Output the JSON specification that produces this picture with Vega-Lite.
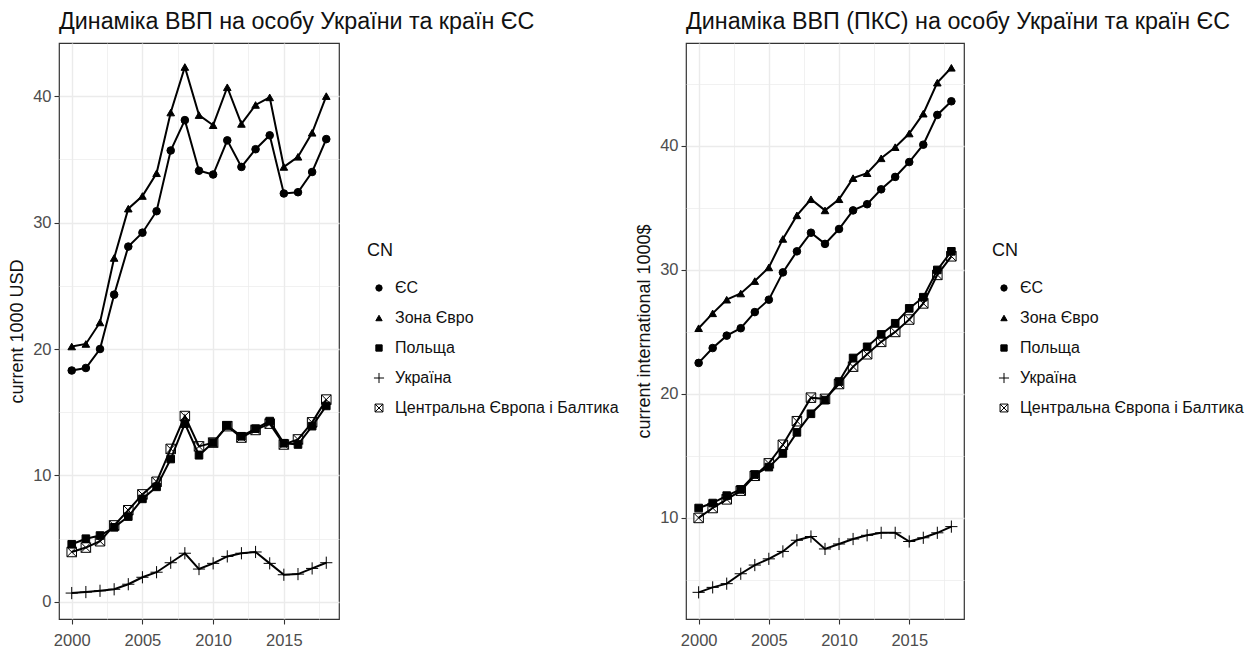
{
  "$schema": "https://vega.github.io/schema/vega-lite/v6.json",
  "background": "white",
  "padding": {"left": 8, "top": 9, "right": 2, "bottom": 0},
  "config": {
    "font": "Liberation Sans",
    "view": {"stroke": "#333333", "strokeWidth": 1.2},
    "axis": {"domain": false, "grid": true, "gridColor": "#EBEBEB", "tickColor": "#333333", "tickSize": 5, "tickWidth": 1.1, "labelColor": "#4D4D4D", "labelFontSize": 16.5, "labelFont": "Liberation Sans", "titleFont": "Liberation Sans", "titleFontSize": 18, "titleColor": "#111111", "titleFontWeight": "normal", "labelOverlap": false, "labelFlush": false, "labelPadding": 3},
    "axisX": {"labelPadding": 8},
    "legend": {"titleFont": "Liberation Sans", "titleFontSize": 18, "titleFontWeight": "normal", "titleColor": "#111111", "labelFont": "Liberation Sans", "labelFontSize": 16, "labelColor": "#111111", "labelLimit": 400, "symbolSize": 40, "symbolStrokeWidth": 1, "rowPadding": 14, "titlePadding": 20, "labelOffset": 8, "symbolOffset": 4},
    "title": {"font": "Liberation Sans", "fontSize": 23.3, "fontWeight": "normal", "color": "#111111", "anchor": "start", "frame": "group", "offset": 9},
    "concat": {"spacing": 15}
  },
  "data": {"values": [
    {"year": 2000, "CN": "ЄС", "usd": 18.3, "ppp": 22.5},
    {"year": 2001, "CN": "ЄС", "usd": 18.5, "ppp": 23.7},
    {"year": 2002, "CN": "ЄС", "usd": 20.0, "ppp": 24.7},
    {"year": 2003, "CN": "ЄС", "usd": 24.3, "ppp": 25.3},
    {"year": 2004, "CN": "ЄС", "usd": 28.1, "ppp": 26.6},
    {"year": 2005, "CN": "ЄС", "usd": 29.2, "ppp": 27.6},
    {"year": 2006, "CN": "ЄС", "usd": 30.9, "ppp": 29.8},
    {"year": 2007, "CN": "ЄС", "usd": 35.7, "ppp": 31.5},
    {"year": 2008, "CN": "ЄС", "usd": 38.1, "ppp": 33.0},
    {"year": 2009, "CN": "ЄС", "usd": 34.1, "ppp": 32.1},
    {"year": 2010, "CN": "ЄС", "usd": 33.8, "ppp": 33.3},
    {"year": 2011, "CN": "ЄС", "usd": 36.5, "ppp": 34.8},
    {"year": 2012, "CN": "ЄС", "usd": 34.4, "ppp": 35.3},
    {"year": 2013, "CN": "ЄС", "usd": 35.8, "ppp": 36.5},
    {"year": 2014, "CN": "ЄС", "usd": 36.9, "ppp": 37.5},
    {"year": 2015, "CN": "ЄС", "usd": 32.3, "ppp": 38.7},
    {"year": 2016, "CN": "ЄС", "usd": 32.4, "ppp": 40.1},
    {"year": 2017, "CN": "ЄС", "usd": 34.0, "ppp": 42.5},
    {"year": 2018, "CN": "ЄС", "usd": 36.6, "ppp": 43.6},
    {"year": 2000, "CN": "Зона Євро", "usd": 20.2, "ppp": 25.3},
    {"year": 2001, "CN": "Зона Євро", "usd": 20.4, "ppp": 26.5},
    {"year": 2002, "CN": "Зона Євро", "usd": 22.1, "ppp": 27.6},
    {"year": 2003, "CN": "Зона Євро", "usd": 27.2, "ppp": 28.1},
    {"year": 2004, "CN": "Зона Євро", "usd": 31.1, "ppp": 29.1},
    {"year": 2005, "CN": "Зона Євро", "usd": 32.1, "ppp": 30.2},
    {"year": 2006, "CN": "Зона Євро", "usd": 33.9, "ppp": 32.5},
    {"year": 2007, "CN": "Зона Євро", "usd": 38.7, "ppp": 34.4},
    {"year": 2008, "CN": "Зона Євро", "usd": 42.3, "ppp": 35.7},
    {"year": 2009, "CN": "Зона Євро", "usd": 38.5, "ppp": 34.8},
    {"year": 2010, "CN": "Зона Євро", "usd": 37.7, "ppp": 35.7},
    {"year": 2011, "CN": "Зона Євро", "usd": 40.7, "ppp": 37.4},
    {"year": 2012, "CN": "Зона Євро", "usd": 37.8, "ppp": 37.8},
    {"year": 2013, "CN": "Зона Євро", "usd": 39.3, "ppp": 39.0},
    {"year": 2014, "CN": "Зона Євро", "usd": 39.9, "ppp": 39.9},
    {"year": 2015, "CN": "Зона Євро", "usd": 34.4, "ppp": 41.0},
    {"year": 2016, "CN": "Зона Євро", "usd": 35.2, "ppp": 42.6},
    {"year": 2017, "CN": "Зона Євро", "usd": 37.1, "ppp": 45.1},
    {"year": 2018, "CN": "Зона Євро", "usd": 40.0, "ppp": 46.3},
    {"year": 2000, "CN": "Польща", "usd": 4.56, "ppp": 10.8},
    {"year": 2001, "CN": "Польща", "usd": 5.0, "ppp": 11.2},
    {"year": 2002, "CN": "Польща", "usd": 5.25, "ppp": 11.8},
    {"year": 2003, "CN": "Польща", "usd": 5.9, "ppp": 12.3},
    {"year": 2004, "CN": "Польща", "usd": 6.75, "ppp": 13.5},
    {"year": 2005, "CN": "Польща", "usd": 8.15, "ppp": 14.1},
    {"year": 2006, "CN": "Польща", "usd": 9.1, "ppp": 15.2},
    {"year": 2007, "CN": "Польща", "usd": 11.3, "ppp": 16.9},
    {"year": 2008, "CN": "Польща", "usd": 14.1, "ppp": 18.4},
    {"year": 2009, "CN": "Польща", "usd": 11.6, "ppp": 19.5},
    {"year": 2010, "CN": "Польща", "usd": 12.6, "ppp": 21.0},
    {"year": 2011, "CN": "Польща", "usd": 13.95, "ppp": 22.9},
    {"year": 2012, "CN": "Польща", "usd": 13.1, "ppp": 23.8},
    {"year": 2013, "CN": "Польща", "usd": 13.7, "ppp": 24.8},
    {"year": 2014, "CN": "Польща", "usd": 14.3, "ppp": 25.7},
    {"year": 2015, "CN": "Польща", "usd": 12.55, "ppp": 26.9},
    {"year": 2016, "CN": "Польща", "usd": 12.45, "ppp": 27.8},
    {"year": 2017, "CN": "Польща", "usd": 13.9, "ppp": 30.0},
    {"year": 2018, "CN": "Польща", "usd": 15.5, "ppp": 31.5},
    {"year": 2000, "CN": "Україна", "usd": 0.7, "ppp": 4.0},
    {"year": 2001, "CN": "Україна", "usd": 0.78, "ppp": 4.4},
    {"year": 2002, "CN": "Україна", "usd": 0.88, "ppp": 4.7},
    {"year": 2003, "CN": "Україна", "usd": 1.0, "ppp": 5.5},
    {"year": 2004, "CN": "Україна", "usd": 1.4, "ppp": 6.2},
    {"year": 2005, "CN": "Україна", "usd": 1.95, "ppp": 6.7},
    {"year": 2006, "CN": "Україна", "usd": 2.35, "ppp": 7.3},
    {"year": 2007, "CN": "Україна", "usd": 3.1, "ppp": 8.2},
    {"year": 2008, "CN": "Україна", "usd": 3.85, "ppp": 8.5},
    {"year": 2009, "CN": "Україна", "usd": 2.6, "ppp": 7.5},
    {"year": 2010, "CN": "Україна", "usd": 3.05, "ppp": 7.9},
    {"year": 2011, "CN": "Україна", "usd": 3.6, "ppp": 8.3},
    {"year": 2012, "CN": "Україна", "usd": 3.85, "ppp": 8.6},
    {"year": 2013, "CN": "Україна", "usd": 3.95, "ppp": 8.8},
    {"year": 2014, "CN": "Україна", "usd": 3.05, "ppp": 8.8},
    {"year": 2015, "CN": "Україна", "usd": 2.15, "ppp": 8.1},
    {"year": 2016, "CN": "Україна", "usd": 2.2, "ppp": 8.4},
    {"year": 2017, "CN": "Україна", "usd": 2.65, "ppp": 8.8},
    {"year": 2018, "CN": "Україна", "usd": 3.1, "ppp": 9.3},
    {"year": 2000, "CN": "Центральна Європа і Балтика", "usd": 3.95, "ppp": 10.0},
    {"year": 2001, "CN": "Центральна Європа і Балтика", "usd": 4.3, "ppp": 10.8},
    {"year": 2002, "CN": "Центральна Європа і Балтика", "usd": 4.8, "ppp": 11.5},
    {"year": 2003, "CN": "Центральна Європа і Балтика", "usd": 6.05, "ppp": 12.2},
    {"year": 2004, "CN": "Центральна Європа і Балтика", "usd": 7.25, "ppp": 13.4},
    {"year": 2005, "CN": "Центральна Європа і Балтика", "usd": 8.5, "ppp": 14.4},
    {"year": 2006, "CN": "Центральна Європа і Балтика", "usd": 9.5, "ppp": 15.9},
    {"year": 2007, "CN": "Центральна Європа і Балтика", "usd": 12.1, "ppp": 17.8},
    {"year": 2008, "CN": "Центральна Європа і Балтика", "usd": 14.7, "ppp": 19.7},
    {"year": 2009, "CN": "Центральна Європа і Балтика", "usd": 12.3, "ppp": 19.6},
    {"year": 2010, "CN": "Центральна Європа і Балтика", "usd": 12.6, "ppp": 20.8},
    {"year": 2011, "CN": "Центральна Європа і Балтика", "usd": 13.9, "ppp": 22.2},
    {"year": 2012, "CN": "Центральна Європа і Балтика", "usd": 13.0, "ppp": 23.2},
    {"year": 2013, "CN": "Центральна Європа і Балтика", "usd": 13.6, "ppp": 24.2},
    {"year": 2014, "CN": "Центральна Європа і Балтика", "usd": 14.1, "ppp": 25.0},
    {"year": 2015, "CN": "Центральна Європа і Балтика", "usd": 12.45, "ppp": 26.0},
    {"year": 2016, "CN": "Центральна Європа і Балтика", "usd": 12.85, "ppp": 27.3},
    {"year": 2017, "CN": "Центральна Європа і Балтика", "usd": 14.2, "ppp": 29.6},
    {"year": 2018, "CN": "Центральна Європа і Балтика", "usd": 16.0, "ppp": 31.1}
  ]},
  "resolve": {"scale": {"shape": "independent", "fill": "independent", "stroke": "independent"}, "legend": {"shape": "independent", "fill": "independent", "stroke": "independent"}},
  "hconcat": [
    {
      "width": 280,
      "height": 576,
      "title": {"text": "Динаміка ВВП на особу України та країн ЄС"},
      "encoding": {
        "x": {"field": "year", "type": "quantitative", "scale": {"domain": [1999.1, 2018.9], "nice": false, "zero": false},
          "axis": {"title": null, "values": [2000, 2002.5, 2005, 2007.5, 2010, 2012.5, 2015, 2017.5], "format": "d",
            "labelExpr": "datum.value % 5 === 0 ? datum.label : ''",
            "tickOpacity": {"condition": {"test": "datum.value % 5 !== 0", "value": 0}, "value": 1},
            "gridWidth": {"condition": {"test": "datum.value % 5 !== 0", "value": 0.7}, "value": 1.4}}},
        "y": {"field": "usd", "type": "quantitative", "scale": {"domain": [-1.35, 44.2], "nice": false, "zero": false},
          "axis": {"title": "current 1000 USD", "titlePadding": 6, "values": [0, 5, 10, 15, 20, 25, 30, 35, 40],
            "labelExpr": "datum.value % 10 === 0 ? datum.label : ''",
            "tickOpacity": {"condition": {"test": "datum.value % 10 !== 0", "value": 0}, "value": 1},
            "gridWidth": {"condition": {"test": "datum.value % 10 !== 0", "value": 0.7}, "value": 1.4}}}
      },
      "layer": [
        {"mark": {"type": "line", "color": "black", "strokeWidth": 2}, "encoding": {"detail": {"field": "CN"}}},
        {"mark": {"type": "point", "strokeWidth": 1, "opacity": 1, "size": 58},
          "encoding": {
            "shape": {"field": "CN", "type": "nominal", "title": "CN",
              "scale": {"domain": ["ЄС", "Зона Євро", "Польща", "Україна", "Центральна Європа і Балтика"],
                "range": ["circle", "triangle-up", "square", "M-1.6,0H1.6M0,-1.6V1.6", "M-1.25,-1.25H1.25V1.25H-1.25ZM-1.25,-1.25L1.25,1.25M-1.25,1.25L1.25,-1.25"]},
              "legend": {"orient": "none", "legendX": 308, "legendY": 199}},
            "fill": {"field": "CN", "type": "nominal", "title": "CN",
              "scale": {"domain": ["ЄС", "Зона Євро", "Польща", "Україна", "Центральна Європа і Балтика"],
                "range": ["black", "black", "black", "transparent", "transparent"]},
              "legend": {"orient": "none", "legendX": 308, "legendY": 199}},
            "stroke": {"field": "CN", "type": "nominal", "title": "CN",
              "scale": {"domain": ["ЄС", "Зона Євро", "Польща", "Україна", "Центральна Європа і Балтика"],
                "range": ["black", "black", "black", "black", "black"]},
              "legend": {"orient": "none", "legendX": 308, "legendY": 199}}
          }}
      ]
    },
    {
      "width": 278,
      "height": 576,
      "title": {"text": "Динаміка ВВП (ПКС) на особу України та країн ЄС"},
      "encoding": {
        "x": {"field": "year", "type": "quantitative", "scale": {"domain": [1999.1, 2018.9], "nice": false, "zero": false},
          "axis": {"title": null, "values": [2000, 2002.5, 2005, 2007.5, 2010, 2012.5, 2015, 2017.5], "format": "d",
            "labelExpr": "datum.value % 5 === 0 ? datum.label : ''",
            "tickOpacity": {"condition": {"test": "datum.value % 5 !== 0", "value": 0}, "value": 1},
            "gridWidth": {"condition": {"test": "datum.value % 5 !== 0", "value": 0.7}, "value": 1.4}}},
        "y": {"field": "ppp", "type": "quantitative", "scale": {"domain": [1.85, 48.3], "nice": false, "zero": false},
          "axis": {"title": "current international 1000$", "titlePadding": 6, "values": [5, 10, 15, 20, 25, 30, 35, 40, 45],
            "labelExpr": "datum.value % 10 === 0 ? datum.label : ''",
            "tickOpacity": {"condition": {"test": "datum.value % 10 !== 0", "value": 0}, "value": 1},
            "gridWidth": {"condition": {"test": "datum.value % 10 !== 0", "value": 0.7}, "value": 1.4}}}
      },
      "layer": [
        {"mark": {"type": "line", "color": "black", "strokeWidth": 2}, "encoding": {"detail": {"field": "CN"}}},
        {"mark": {"type": "point", "strokeWidth": 1, "opacity": 1, "size": 58},
          "encoding": {
            "shape": {"field": "CN", "type": "nominal", "title": "CN",
              "scale": {"domain": ["ЄС", "Зона Євро", "Польща", "Україна", "Центральна Європа і Балтика"],
                "range": ["circle", "triangle-up", "square", "M-1.6,0H1.6M0,-1.6V1.6", "M-1.25,-1.25H1.25V1.25H-1.25ZM-1.25,-1.25L1.25,1.25M-1.25,1.25L1.25,-1.25"]},
              "legend": {"orient": "none", "legendX": 306, "legendY": 199}},
            "fill": {"field": "CN", "type": "nominal", "title": "CN",
              "scale": {"domain": ["ЄС", "Зона Євро", "Польща", "Україна", "Центральна Європа і Балтика"],
                "range": ["black", "black", "black", "transparent", "transparent"]},
              "legend": {"orient": "none", "legendX": 306, "legendY": 199}},
            "stroke": {"field": "CN", "type": "nominal", "title": "CN",
              "scale": {"domain": ["ЄС", "Зона Євро", "Польща", "Україна", "Центральна Європа і Балтика"],
                "range": ["black", "black", "black", "black", "black"]},
              "legend": {"orient": "none", "legendX": 306, "legendY": 199}}
          }}
      ]
    }
  ]
}
